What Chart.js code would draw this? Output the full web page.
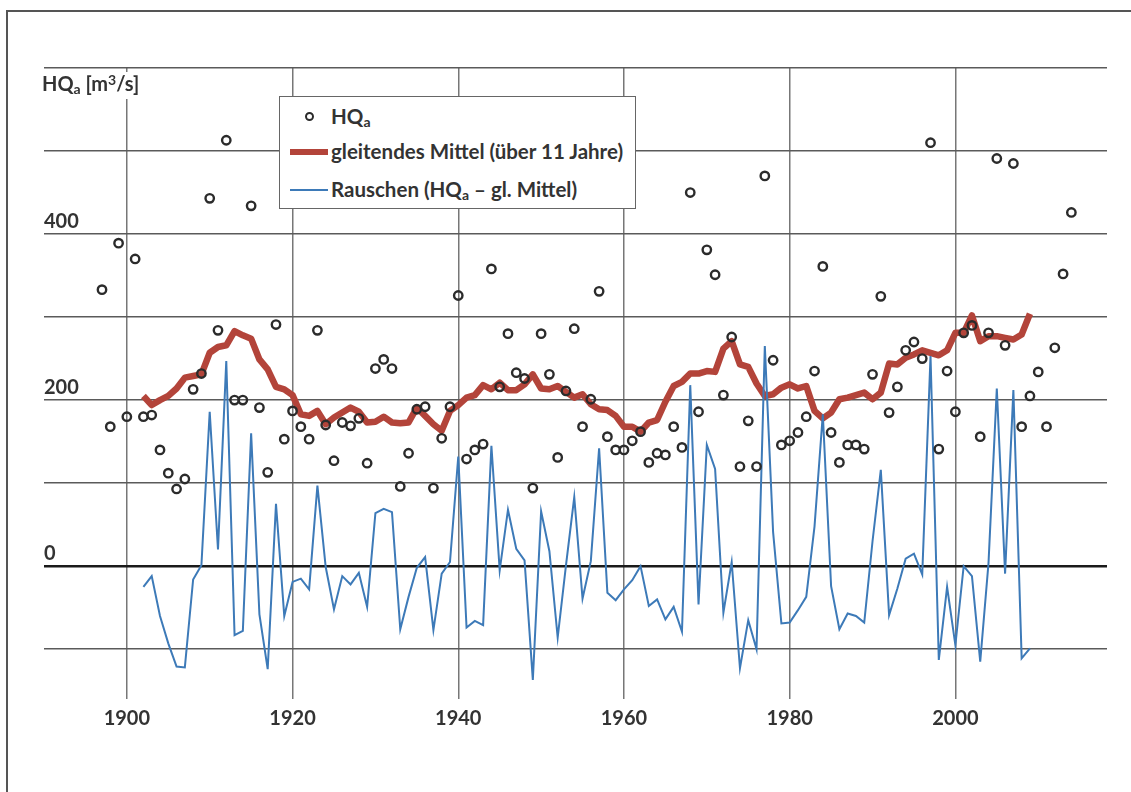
<!DOCTYPE html>
<html>
<head>
<meta charset="utf-8">
<script src="https://cdn.jsdelivr.net/npm/chart.js@4.4.1/dist/chart.umd.min.js"></script>
<style>
    html, body { margin: 0; padding: 0; background: #fff; }
    #wrap { position: relative; width: 1131px; height: 792px; overflow: hidden; font-family: Lato, "Noto Sans", sans-serif; color: #333; }
    #frame { position: absolute; left: 6px; top: 10px; width: 2000px; height: 2000px; border-left: 2px solid #555; border-top: 2px solid #555; }
    #chart { position: absolute; left: 0; top: 0; }
    #yTitle { position: absolute; left: 40px; top: 72px; padding: 0 3px 4px 2px; background: #fff; font-size: 20px; font-weight: bold; line-height: 23px; }
    sub { font-size: 14px; vertical-align: -3px; line-height: 0; }
    sup { font-size: 14px; vertical-align: 6px; line-height: 0; }
    #legend { position: absolute; left: 279px; top: 96px; width: 357px; height: 113px; box-sizing: border-box; border: 1.5px solid #666; background: #fff; }
    .row { position: absolute; left: 51px; font-size: 20.5px; font-weight: bold; line-height: 24px; white-space: nowrap; }
    .sw { position: absolute; }
</style>
</head>
<body>
<div id="wrap">
    <div id="frame"></div>
    <canvas id="chart" width="1131" height="792"></canvas>
    <div id="yTitle">HQ<sub>a</sub> [m<sup>3</sup>/s]</div>
    <div id="legend">
        <div class="sw" style="left:25px;top:15px;width:9px;height:9px;border:2.4px solid #2b2b2b;border-radius:50%;box-sizing:border-box;"></div>
        <div class="row" style="top:7px;">HQ<sub>a</sub></div>
        <div class="sw" style="left:10px;top:52px;width:38px;height:6px;background:#b3443a;"></div>
        <div class="row" style="top:42px;">gleitendes Mittel (über 11 Jahre)</div>
        <div class="sw" style="left:10px;top:92px;width:38px;height:2px;background:#3d7ab8;"></div>
        <div class="row" style="top:80px;">Rauschen (HQ<sub>a</sub> – gl. Mittel)</div>
    </div>
</div>
<script>
// ---------------- Data ----------------
const hqaStart = 1897;
const hqa = [333,168,389,180,370,180,182,140,112,93,
    105,213,232,443,284,513,200,200,434,191,
    113,291,153,187,168,153,284,170,127,173,
    169,178,124,238,249,238,96,136,189,192,
    94,154,192,326,129,140,147,358,216,280,
    233,226,94,280,231,131,211,286,168,201,
    331,156,140,140,151,162,125,136,134,168,
    143,450,186,381,351,206,276,120,175,120,
    470,248,146,151,161,180,235,361,161,125,
    146,146,141,231,325,185,216,260,270,250,
    510,141,235,186,281,290,156,281,491,266,
    485,168,205,234,168,263,352,426];

const meanStart = 1902;
const mean = [205,194,200,205,214,227,229,231,257,264,
    266,283,278,274,249,237,216,213,206,183,
    181,187,171,179,185,191,186,173,174,180,
    173,172,173,191,181,171,163,187,194,203,
    206,218,213,221,212,212,219,231,214,213,
    217,210,203,207,195,189,188,181,168,168,
    162,173,176,198,217,222,232,232,235,234,
    262,271,243,240,220,205,207,215,219,214,
    217,187,178,185,201,203,206,209,201,209,
    244,243,251,255,260,257,254,260,281,281,
    302,271,277,277,275,273,279,304];

const noise = [-25,-12,-60,-93,-121,-122,-16,1,186,20,
    247,-83,-78,160,-58,-124,75,-60,-19,-15,
    -28,97,-1,-52,-12,-22,-8,-49,64,69,
    65,-76,-37,-2,11,-77,-9,5,132,-74,
    -66,-71,145,-5,68,21,7,-137,66,18,
    -86,1,83,-39,6,142,-32,-41,-28,-17,
    0,-48,-40,-64,-49,-79,218,-46,146,117,
    -56,5,-123,-65,-100,265,41,-69,-68,-53,
    -37,48,183,-24,-76,-57,-60,-68,30,116,
    -59,-27,9,15,-10,253,-113,-25,-95,0,
    -12,-115,4,214,-9,212,-111,-99];

const xTicks = [1900, 1920, 1940, 1960, 1980, 2000];
const yTicks = [-100, 0, 100, 200, 300, 400, 500, 600];
const yLabels = [0, 200, 400];

const toPoints = (arr, start) => arr.map((v, i) => ({x: start + i, y: v}));

// ---------------- Chart ----------------
const font = {family: 'Lato, "Noto Sans", sans-serif', size: 20, weight: 'bold'};

new Chart(document.getElementById('chart'), {
    type: 'scatter',
    data: {
        datasets: [
            {label: 'HQa', data: toPoints(hqa, hqaStart), pointRadius: 4.2, pointBorderWidth: 2.4,
                pointBorderColor: '#2b2b2b', pointBackgroundColor: 'rgba(0,0,0,0)', order: 0},
            {label: 'Rauschen', type: 'line', data: toPoints(noise, meanStart), borderColor: '#3d7ab8',
                borderWidth: 2, pointRadius: 0, tension: 0, order: 1},
            {label: 'gleitendes Mittel', type: 'line', data: toPoints(mean, meanStart), borderColor: '#b3443a',
                borderWidth: 6.5, borderJoinStyle: 'round', pointRadius: 0, tension: 0, order: 2}
        ]
    },
    options: {
        responsive: false,
        animation: false,
        devicePixelRatio: 1,
        layout: {padding: {left: 44, top: 68, right: 24, bottom: 53}},
        plugins: {legend: {display: false}, tooltip: {enabled: false}},
        scales: {
            x: {
                type: 'linear', min: 1890, max: 2018.3,
                afterBuildTicks: s => { s.ticks = xTicks.map(v => ({value: v})); },
                grid: {color: '#777', lineWidth: 1.5, drawTicks: false},
                border: {display: false},
                ticks: {font, color: '#333', padding: 8, callback: v => String(v)}
            },
            y: {
                min: -160, max: 600,
                afterBuildTicks: s => { s.ticks = yTicks.map(v => ({value: v})); },
                grid: {
                    color: c => c.tick && c.tick.value === 0 ? '#1a1a1a' : '#5a5a5a',
                    lineWidth: c => c.tick && c.tick.value === 0 ? 2.5 : 1.5,
                    drawTicks: false
                },
                border: {display: false},
                ticks: {font, color: '#333', mirror: true, padding: 0, labelOffset: -13,
                    callback: v => yLabels.includes(v) ? String(v) : ''}
            }
        }
    }
});
</script>
</body>
</html>
